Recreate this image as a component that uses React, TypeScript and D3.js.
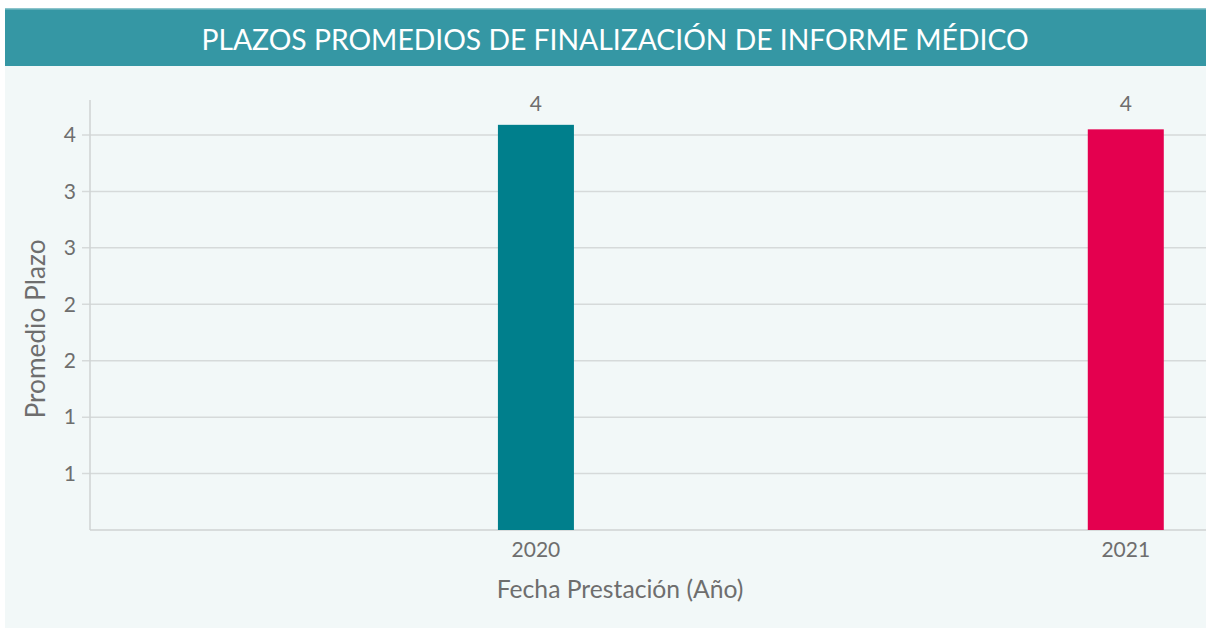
import React from "react";
import * as d3 from "d3";

const years = [2020, 2021];
const values = [3.59, 3.55];
const barColors = ["#007f8c", "#e4004f"];
const yTicks = [0.5, 1, 1.5, 2, 2.5, 3, 3.5];
const title = "PLAZOS PROMEDIOS DE FINALIZACIÓN DE INFORME MÉDICO";
const xTitle = "Fecha Prestación (Año)";
const yTitle = "Promedio Plazo";

const W = 1206;
const H = 628;
const FONT = "Lato, 'Open Sans', sans-serif";

export default function App() {
  const plotLeft = 90;
  const plotRight = 1206;
  const plotTop = 100;
  const plotBottom = 530;
  const y = d3.scaleLinear().domain([0, 3.81]).range([plotBottom, plotTop]);
  const x = d3.scaleLinear().domain([2019.244, 2021.136]).range([plotLeft, plotRight]);
  const barW = 76;
  const fmt = d3.format(".0f");
  const maxV = d3.max(values) as number;

  return (
    <svg width={W} height={H} style={{ position: "absolute", left: 0, top: 0, display: "block" }} fontFamily={FONT}>
      <rect x={0} y={0} width={W} height={H} fill="#ffffff" />
      <rect x={5} y={8} width={W - 5} height={H - 8} fill="#f2f8f8" />
      <rect x={5} y={8} width={W - 5} height={58} fill="#3597a4" />
      <rect x={5} y={8} width={W - 5} height={1.5} fill="#8cc4cb" />
      <text x={615} y={50} textAnchor="middle" fill="#ffffff" fontSize={28.3}>{title}</text>

      {yTicks.map((t) => (
        <g key={t}>
          <line x1={82} x2={plotRight} y1={y(t)} y2={y(t)} stroke="#d6dada" strokeWidth={1.5} />
          <text x={76} y={y(t)} dy="0.35em" textAnchor="end" fill="#6e6e6e" fontSize={21}>{fmt(t)}</text>
        </g>
      ))}
      <line x1={plotLeft} x2={plotLeft} y1={plotTop} y2={plotBottom} stroke="#cfd3d3" strokeWidth={1.5} />
      <line x1={plotLeft} x2={plotRight} y1={plotBottom} y2={plotBottom} stroke="#cfd3d3" strokeWidth={1.5} />

      {years.map((yr, i) => (
        <g key={yr}>
          <rect x={x(yr) - barW / 2} y={y(values[i])} width={barW} height={plotBottom - y(values[i])} fill={barColors[i]} />
          <text x={x(yr)} y={y(maxV) - 14} textAnchor="middle" fill="#6e6e6e" fontSize={21}>{fmt(values[i])}</text>
          <text x={x(yr)} y={557} textAnchor="middle" fill="#6e6e6e" fontSize={21}>{yr}</text>
        </g>
      ))}

      <text x={620} y={598} textAnchor="middle" fill="#6e6e6e" fontSize={24.7}>{xTitle}</text>
      <text transform={`translate(45,329) rotate(-90)`} textAnchor="middle" fill="#6e6e6e" fontSize={26.3}>{yTitle}</text>
    </svg>
  );
}
